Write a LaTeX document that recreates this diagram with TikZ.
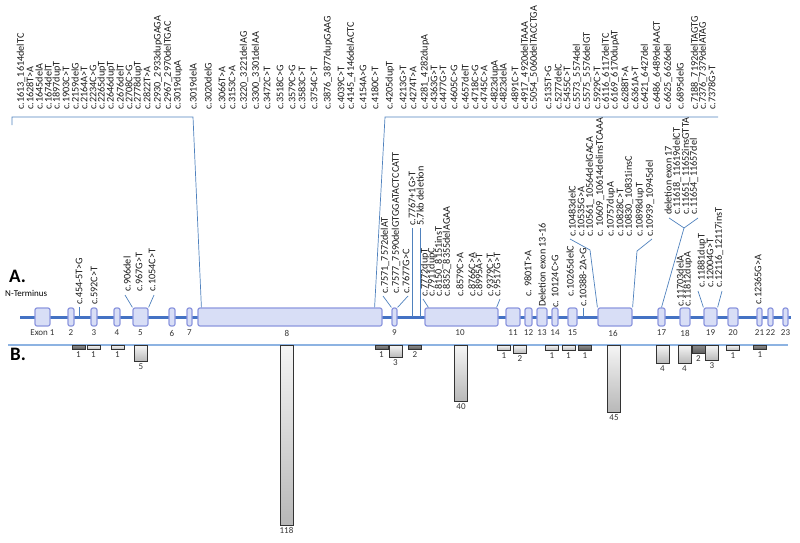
\documentclass[tikz,border=0pt]{standalone}
\usepackage{fontspec}
\setmainfont{Carlito}
\definecolor{geneblue}{RGB}{68,114,196}
\definecolor{connblue}{RGB}{79,129,189}
\definecolor{exonfill}{RGB}{216,222,246}
\definecolor{exonborder}{RGB}{140,150,222}
\definecolor{baseblue}{RGB}{141,179,226}
\tikzset{
  lbl/.style={rotate=90, anchor=west, inner sep=0pt, font=\fontsize{10.2}{12}\selectfont, text=black!90},
  exon/.style={draw=exonborder, fill=exonfill, rounded corners=2pt, line width=1.2pt, minimum height=18pt, inner sep=0pt},
  conn/.style={draw=connblue, line width=0.7pt},
  num/.style={font=\fontsize{9}{10}\selectfont, text=black!80, inner sep=0pt},
  bar/.style={draw=black!80, line width=0.8pt, top color=black!4, bottom color=black!28, anchor=north, minimum width=13pt, inner sep=0pt},
  darkbar/.style={bar, top color=black!45, bottom color=black!65},
}
\newcommand\toplab[3]{\node[lbl] (#1) at (#2,110) {#3};}
\begin{document}
\begin{tikzpicture}[x=1pt,y=-1pt]
\useasboundingbox (0,0) rectangle (800,543);

% ---------- top labels (exon 8) ----------
\toplab{t1}{21}{c.1613\_1614delTC}
\toplab{t2}{30}{c.1628T>A}
\toplab{t3}{39}{c.1645delA}
\toplab{t4}{48}{c.1674delT}
\toplab{t5}{57}{c.1897dupT}
\toplab{t6}{66}{c.1903C>T}
\toplab{t7}{75}{c.2159delG}
\toplab{t8}{84}{c.2164A>T}
\toplab{t9}{93}{c.2234C>G}
\toplab{t10}{102}{c.2265dupT}
\toplab{t11}{111}{c.2646dupT}
\toplab{t12}{120}{c.2676delT}
\toplab{t13}{129}{c.2708C>G}
\toplab{t14}{138}{c.2778dupT}
\toplab{t15}{147}{c.2822T>A}
\toplab{t16}{158}{c.2930\_2933dupGAGA}
\toplab{t17}{168}{c.2967\_2970delTGAC}
\toplab{t18}{178}{c.3019dupA}
\toplab{t19}{193}{c.3019delA}
\toplab{t20}{208}{c.3020delG}
\toplab{t21}{222}{c.3066T>A}
\toplab{t22}{232}{c.3153C>A}
\toplab{t23}{244}{c.3220\_3221delAG}
\toplab{t24}{256}{c.3300\_3301delAA}
\toplab{t25}{267}{c.3472C>T}
\toplab{t26}{280}{c.3518C>G}
\toplab{t27}{292}{c.3579C>G}
\toplab{t28}{302}{c.3583C>T}
\toplab{t29}{314}{c.3754C>T}
\toplab{t30}{328}{c.3876\_3877dupGAAG}
\toplab{t31}{341}{c.4039C>T}
\toplab{t32}{351}{c.4145\_4146delACTC}
\toplab{t33}{363}{c.4154A>G}
\toplab{t34}{375}{c.4180C>T}
\toplab{t35}{390}{c.4205dupT}
\toplab{t36}{403}{c.4213G>T}
\toplab{t37}{413}{c.4274T>A}
\toplab{t38}{425}{c.4281\_4282dupA}
\toplab{t39}{434}{c.4363G>T}
\toplab{t40}{443}{c.4477G>T}
\toplab{t41}{454}{c.4605C>G}
\toplab{t42}{465}{c.4657delT}
\toplab{t43}{475}{c.4718C>G}
\toplab{t44}{484}{c.4745C>A}
\toplab{t45}{495}{c.4823dupA}
\toplab{t46}{503}{c.4823delA}
\toplab{t47}{515}{c.4891C>T}
\toplab{t48}{525}{c.4917\_4920delTAAA}
\toplab{t49}{534}{c.5054\_5060delTACCTGA}
\toplab{t50}{548}{c.5135T>G}
\toplab{t51}{558}{c.5277delC}
\toplab{t52}{567}{c.5455C>T}
\toplab{t53}{577}{c.5573\_5574del}
\toplab{t54}{587}{c.5575\_5576delGT}
\toplab{t55}{597}{c.5929C>T}
\toplab{t56}{606}{c.6116\_6117delTC}
\toplab{t57}{615}{c.6169\_6170dupAT}
\toplab{t58}{625}{c.6288T>A}
\toplab{t59}{635}{c.6361A>T}
\toplab{t60}{645}{c.6421\_6427del}
\toplab{t61}{657}{c.6486\_6489delAACT}
\toplab{t62}{668}{c.6625\_6626del}
\toplab{t63}{680}{c.6895delG}
\toplab{t64}{695}{c.7188\_7192delTAGTG}
\toplab{t65}{703}{c.7376\_7379delATAG}
\toplab{t66}{712}{c.7378G>T}

% ---------- gene line and exons ----------
\coordinate (gs) at (20,317);
\coordinate (ge) at (791,317);
\draw[geneblue, line width=3pt] (gs) -- (ge);

\foreach \c/\w [count=\i] in {
42.5/15, 71/6, 94/6, 117/6, 140.5/15, 172/6, 189.5/5, 290/184, 394.5/5, 461.5/73,
513/14, 528.5/7, 542/10, 555/6, 572.5/9, 615/34, 661.5/7, 685/10, 710.5/13, 733/10,
759.5/5, 770.5/5, 785.5/5}
  \node[exon, minimum width=\w pt] (e\i) at (\c,317) {};

\foreach \c/\t [count=\i] in {
42.5/Exon 1, 71/2, 94/3, 117/4, 140.5/5, 172/6, 189.5/7, 287/8, 394.5/9, 460/10,
513/11, 528.5/12, 542/13, 555/14, 572.5/15, 613/16, 661.5/17, 685/18, 710.5/19, 733/20,
759.5/21, 770.5/22, 785.5/23}
  \node[num] (n\i) at (\c,333) {\t};

% ---------- top bracket ----------
\coordinate (bl0) at (12,125);
\coordinate (bl1) at (12,117);
\coordinate (bl2) at (193,117);
\coordinate (br1) at (385,117);
\coordinate (br2) at (718,117);
\draw[conn] (bl0) -- (bl1) -- (bl2) -- ([xshift=4pt]e8.north west);
\draw[conn] (br2) -- (br1) -- ([xshift=-8pt]e8.north east);

% ---------- mutation labels near exons ----------
\foreach \xx/\yy/\t [count=\i] in {
79/305/c.454-5T>G, 94/305/c.592C>T, 127/292/c.906del, 139/292/c.967G>T, 152/292/c.1054C>T,
385/294/c.7571\_7572delAT, 396/294/c.7577\_7590delGTGGATACTCCATT, 406/294/c.7677G>C,
412/226/c.7767+1G>T, 420/226/5.7kb deletion,
425/297/c.7772dupT, 432/297/c.7911dupC, 439/297/c.8150\_8151insT, 447/297/c.8352\_8355delAGAA,
460/297/c.8579C>A, 472/297/c.8766C>A, 479/297/c.8995A>T, 490/297/c.9379C>T, 497/297/c.9517G>T,
528/297/c. 9801T>A, 542/307/Deletion exon 13-16, 555/308/c. 10124C>G, 570/297/c.10265delC, 583/307/c.10388-2A>G,
572/237/c.10483delC, 581/237/c.10535G>A, 590/237/c.10561\_10564delGACA, 600/237/c. 10609\_10614delinsTCAAA,
611/237/c.10757dupA, 620/237/c.10828C>T, 629/237/c.10830\_10831insC, 640/237/c.10898dupT, 650/237/c.10939\_10945del,
668/215/deletion exon 17, 677/215/c.11618\_11619delCT, 686/215/c.11651\_11652insGTTA, 694/215/c.11654\_11657del,
680/307/c.11703delA, 688/307/c.11812dupA,
702/288/c.11881dupT, 710/288/c.12004G>T, 719/288/c.12116\_12117insT,
758/305/c.12365G>A}
  \node[lbl] (m\i) at (\xx,\yy) {\t};

% connectors
\draw[conn] ([yshift=-2pt]m1.west) -- (m1.west |- gs);
\draw[conn] ([yshift=-1pt]m24.west) -- (m24.west |- gs);
\draw[conn] ([yshift=-2pt]m9.west) -- (m9.west |- gs);
\draw[conn] ([yshift=-2pt]m10.west) -- (m10.west |- gs);
% exon 5
\draw[conn] ([shift={(-2,3)}]m3.west) -- (e5.north west);
\draw[conn] ([shift={(2,3)}]m5.west) -- (e5.north east);
% exon 9
\draw[conn] ([shift={(-2,2)}]m6.west) -- (e9.north west);
\draw[conn] ([shift={(2,2)}]m8.west) -- (e9.north east);
% exon 10
\draw[conn] ([shift={(-2,2)}]m11.west) -- ([xshift=4pt]e10.north west);
\draw[conn] ([shift={(3,2)}]m19.west) -- ([xshift=-2pt]e10.north east);
% exon 16
\coordinate (k16a) at (590,250);
\coordinate (k16b) at (637,251);
\draw[conn] ([shift={(-2,2)}]m25.west) -- (k16a) -- (e16.north west);
\draw[conn] ([shift={(2,2)}]m33.west) -- (k16b) -- (e16.north east);
% exon 17
\coordinate (k17) at (684,228);
\draw[conn] ([shift={(1,3)}]m34.west) -- (k17);
\draw[conn] ([shift={(4,3)}]m37.west) -- (k17);
\draw[conn] (k17) -- (e17.north);
% exon 19
\draw[conn] ([shift={(-4,3)}]m40.west) -- (e19.north west);
\draw[conn] ([shift={(3,3)}]m42.west) -- (e19.north east);

% ---------- panel titles ----------
\node[font=\fontsize{19}{20}\selectfont\bfseries, anchor=west, inner sep=0pt] (lblA) at (9,276) {A.};
\node[font=\fontsize{9}{10}\selectfont, anchor=west, inner sep=0pt] (nterm) at (5,293) {N-Terminus};
\node[font=\fontsize{19}{20}\selectfont\bfseries, anchor=west, inner sep=0pt] (lblB) at (10,354) {B.};

% ---------- panel B ----------
\coordinate (bs) at (8,345);
\coordinate (be) at (788,345);
\draw[baseblue, line width=1.2pt] (bs) -- (be);

\foreach \xx/\h/\t/\s [count=\i] in {
78.5/4/1/darkbar, 93.5/4/1/bar, 117.5/4/1/bar, 141/16/5/bar, 286.5/180/118/bar,
381.5/4/1/darkbar, 395.5/12/3/bar, 415/4/2/darkbar, 461/56/40/bar, 504/5/1/bar,
520/8/2/bar, 552/5/1/bar, 568.5/5/1/bar, 585/5/1/darkbar, 614/67/45/bar,
662.5/18/4/bar, 684.5/18/4/bar, 698.5/8/2/darkbar, 712/15/3/bar, 733/5/1/bar,
760/4/1/darkbar}
{
  \node[\s, minimum height=\h pt] (b\i) at (\xx,345) {};
  \node[num, anchor=north] (bn\i) at ([yshift=-1.5pt]b\i.south) {\t};
}
\end{tikzpicture}
\end{document}
